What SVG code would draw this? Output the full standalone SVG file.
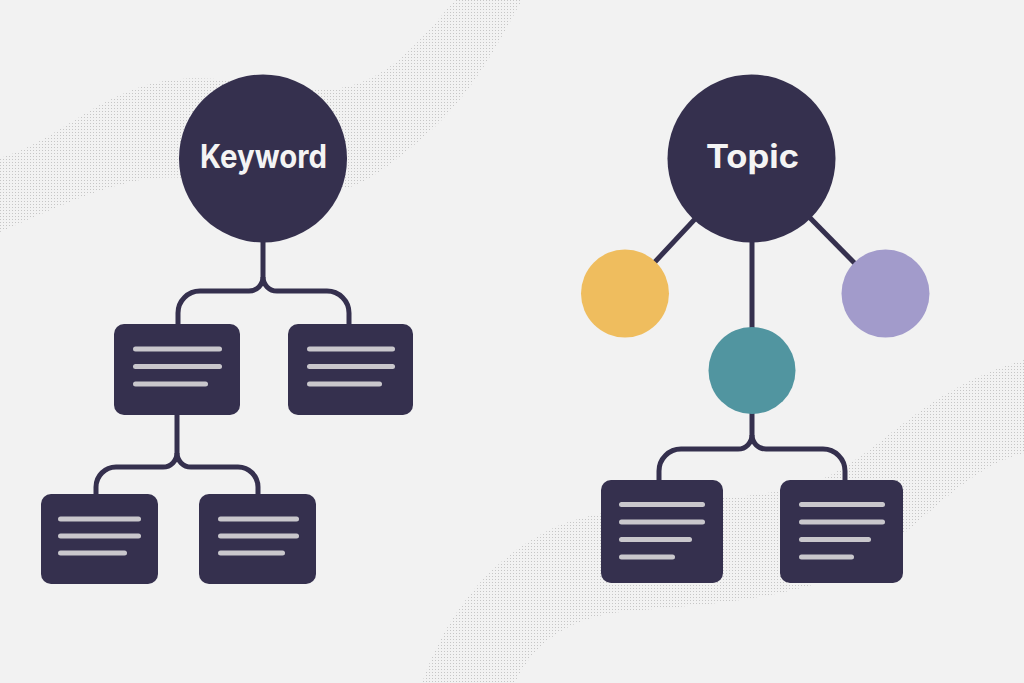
<svg xmlns="http://www.w3.org/2000/svg" width="1024" height="683" viewBox="0 0 1024 683">
  <defs>
    <pattern id="dots" width="3" height="3" patternUnits="userSpaceOnUse">
      <rect x="0" y="0" width="1" height="1" fill="#c6c6c6"/>
    </pattern>
  </defs>
  <style>
    .dark { fill: #35304e; }
    .conn { fill: none; stroke: #35304e; stroke-width: 5; stroke-linejoin: round; }
    .txtline { stroke: #c9c7cc; stroke-width: 5; stroke-linecap: round; }
    .label { font-family: Inter, "Liberation Sans", sans-serif; font-weight: 700; font-size: 32px; fill: #f4f4f4; text-anchor: middle; }
  </style>
  <rect width="1024" height="683" fill="#f2f2f2"/>
  <g id="background">
    <path fill="url(#dots)" d="M0 158 C60 140 100 90 170 80 C230 72 290 95 340 88 C390 80 420 40 455 0 L522 0 C500 40 470 100 420 140 C385 170 360 188 330 192 C260 195 200 170 140 180 C90 190 40 215 0 232 Z"/>
    <path fill="url(#dots)" d="M422 683 C440 630 480 560 560 525 C640 495 760 505 820 480 C880 455 920 390 1024 360 L1024 453 C960 470 920 530 860 565 C800 600 700 605 620 612 C560 620 530 650 515 683 Z"/>
  </g>
  <g id="connectors">
    <path class="conn" d="M263 240 V277 A14 14 0 0 1 249 291 H200 A22 22 0 0 0 178 313 V326"/>
    <path class="conn" d="M263 277 A14 14 0 0 0 277 291 H327 A22 22 0 0 1 349 313 V326"/>
    <path class="conn" d="M177 413 V453 A14 14 0 0 1 163 467 H116 A20 20 0 0 0 96 487 V496"/>
    <path class="conn" d="M177 453 A14 14 0 0 0 191 467 H238 A20 20 0 0 1 258 487 V496"/>
    <path class="conn" d="M751.5 158.5 L625 294"/>
    <path class="conn" d="M751.5 158.5 L885 294"/>
    <path class="conn" d="M752 158.5 V372"/>
    <path class="conn" d="M752 410 V435 A14 14 0 0 1 738 449 H681 A22 22 0 0 0 659 471 V482"/>
    <path class="conn" d="M752 435 A14 14 0 0 0 766 449 H823 A22 22 0 0 1 845 471 V482"/>
  </g>
  <g id="keyword">
    <circle class="dark" cx="263" cy="158.5" r="84"/>
    <text class="label" x="263.5" y="168" textLength="127" lengthAdjust="spacingAndGlyphs">Keyword</text>
  </g>
  <g id="box1">
    <rect class="dark" x="114" y="324" width="126" height="91" rx="10"/>
    <line class="txtline" x1="135.5" y1="349" x2="219.5" y2="349"/>
    <line class="txtline" x1="135.5" y1="366.5" x2="219.5" y2="366.5"/>
    <line class="txtline" x1="135.5" y1="384" x2="205.5" y2="384"/>
  </g>
  <g id="box2">
    <rect class="dark" x="288" y="324" width="125" height="91" rx="10"/>
    <line class="txtline" x1="309.5" y1="349" x2="392.5" y2="349"/>
    <line class="txtline" x1="309.5" y1="366.5" x2="392.5" y2="366.5"/>
    <line class="txtline" x1="309.5" y1="384" x2="379.5" y2="384"/>
  </g>
  <g id="box3">
    <rect class="dark" x="41" y="494" width="117" height="90" rx="10"/>
    <line class="txtline" x1="60.5" y1="519" x2="138.5" y2="519"/>
    <line class="txtline" x1="60.5" y1="536" x2="138.5" y2="536"/>
    <line class="txtline" x1="60.5" y1="553" x2="124.5" y2="553"/>
  </g>
  <g id="box4">
    <rect class="dark" x="199" y="494" width="117" height="90" rx="10"/>
    <line class="txtline" x1="220.5" y1="519" x2="296.5" y2="519"/>
    <line class="txtline" x1="220.5" y1="536" x2="296.5" y2="536"/>
    <line class="txtline" x1="220.5" y1="553" x2="282.5" y2="553"/>
  </g>
  <g id="topic">
    <circle class="dark" cx="751.5" cy="158.5" r="84"/>
    <text class="label" x="752.5" y="167.5" textLength="93" lengthAdjust="spacingAndGlyphs">Topic</text>
  </g>
  <g id="yellow">
    <circle cx="625" cy="293.5" r="44" fill="#efbd5e"/>
  </g>
  <g id="purple">
    <circle cx="885.5" cy="293.5" r="44" fill="#a29bcb"/>
  </g>
  <g id="teal">
    <circle cx="752" cy="370.5" r="43.5" fill="#5195a0"/>
  </g>
  <g id="box5">
    <rect class="dark" x="601" y="480" width="122" height="103" rx="10"/>
    <line class="txtline" x1="621.5" y1="504.5" x2="702.5" y2="504.5"/>
    <line class="txtline" x1="621.5" y1="522" x2="702.5" y2="522"/>
    <line class="txtline" x1="621.5" y1="539.5" x2="689.5" y2="539.5"/>
    <line class="txtline" x1="621.5" y1="557" x2="672.5" y2="557"/>
  </g>
  <g id="box6">
    <rect class="dark" x="780" y="480" width="123" height="103" rx="10"/>
    <line class="txtline" x1="801.5" y1="504.5" x2="882.5" y2="504.5"/>
    <line class="txtline" x1="801.5" y1="522" x2="882.5" y2="522"/>
    <line class="txtline" x1="801.5" y1="539.5" x2="868.5" y2="539.5"/>
    <line class="txtline" x1="801.5" y1="557" x2="851.5" y2="557"/>
  </g>
</svg>
